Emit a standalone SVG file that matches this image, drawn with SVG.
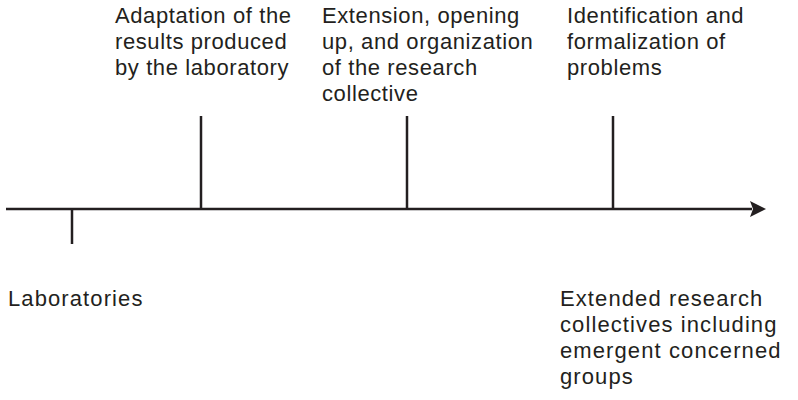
<svg xmlns="http://www.w3.org/2000/svg" width="798" height="400" viewBox="0 0 798 400">
<style>
text{font-family:"Liberation Sans",Arial,sans-serif;font-size:22px;letter-spacing:0.6px;fill:#231f20}
.b{letter-spacing:1.1px}
.ln{stroke:#231f20;stroke-width:2.5;fill:none}
</style>
<rect width="798" height="400" fill="#fff"/>
<g id="connectors">
<line class="ln" x1="6" y1="209" x2="752" y2="209"/>
<polygon points="750,201 766,209 750,217 753,209" fill="#231f20"/>
<line class="ln" x1="72" y1="209" x2="72" y2="244"/>
<line class="ln" x1="201" y1="116" x2="201" y2="209"/>
<line class="ln" x1="407" y1="116" x2="407" y2="209"/>
<line class="ln" x1="613" y1="116" x2="613" y2="209"/>
</g>
<g id="adaptation">
<text x="115" y="23">Adaptation of the</text>
<text x="115" y="49">results produced</text>
<text x="115" y="75">by the laboratory</text>
</g>
<g id="extension">
<text x="322" y="23">Extension, opening</text>
<text x="322" y="49">up, and organization</text>
<text x="322" y="75">of the research</text>
<text x="322" y="101">collective</text>
</g>
<g id="identification">
<text x="567" y="23">Identification and</text>
<text x="567" y="49">formalization of</text>
<text x="567" y="75">problems</text>
</g>
<g id="laboratories">
<text class="b" x="8" y="306">Laboratories</text>
</g>
<g id="extended">
<text class="b" x="560" y="306">Extended research</text>
<text class="b" x="560" y="332">collectives including</text>
<text class="b" x="560" y="358">emergent concerned</text>
<text class="b" x="560" y="384">groups</text>
</g>
</svg>
